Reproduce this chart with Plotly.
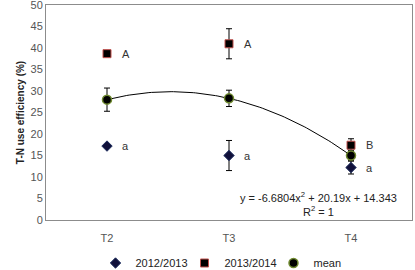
import numpy as np
import plotly.graph_objects as go

categories = ["T2", "T3", "T4"]
xpos = [1, 2, 3]
s1_name = "2012/2013"
s1_vals = [17.2, 15.0, 12.2]
s1_err = [0.0, 3.5, 1.5]
s1_letters = ["a", "a", "a"]
s2_name = "2013/2014"
s2_vals = [38.7, 41.0, 17.4]
s2_err = [0.0, 3.5, 1.5]
s2_letters = ["A", "A", "B"]
mean_name = "mean"
mean_vals = [28.0, 28.3, 15.0]
mean_err = [2.7, 1.9, 1.2]
eq_text = "y = -6.6804x<sup>2</sup> + 20.19x + 14.343"
r2_text = "R<sup>2</sup> = 1"
y_ticks = [0, 5, 10, 15, 20, 25, 30, 35, 40, 45, 50]

font_family = "Liberation Sans, Arial, sans-serif"

coef = np.polyfit(xpos, mean_vals, 2)
xs = np.linspace(1, 3, 100)
ys = np.polyval(coef, xs)

fig = go.Figure()

fig.add_trace(go.Scatter(x=xs, y=ys, mode="lines", line=dict(color="black", width=1),
                         showlegend=False, hoverinfo="skip"))

err_style = dict(type="data", thickness=1, width=3, color="black")

fig.add_trace(go.Scatter(
    x=xpos, y=s1_vals, mode="markers", name=s1_name,
    marker=dict(symbol="diamond", size=8, color="#10103a", line=dict(color="#1f2f5f", width=1)),
    error_y=dict(array=s1_err, **err_style)))
fig.add_trace(go.Scatter(
    x=xpos, y=s2_vals, mode="markers", name=s2_name,
    marker=dict(symbol="square", size=8, color="#000000", line=dict(color="#c0504d", width=1)),
    error_y=dict(array=s2_err, **err_style)))
fig.add_trace(go.Scatter(
    x=xpos, y=mean_vals, mode="markers", name=mean_name,
    marker=dict(symbol="circle", size=9, color="#000000", line=dict(color="#6f8a30", width=1.5)),
    error_y=dict(array=mean_err, **err_style)))

for x, y, t in zip(xpos, s1_vals, s1_letters):
    fig.add_annotation(x=x, y=y, text=t, showarrow=False, xshift=13, xanchor="left",
                       font=dict(size=11, color="#333333", family=font_family))
for x, y, t in zip(xpos, s2_vals, s2_letters):
    fig.add_annotation(x=x, y=y, text=t, showarrow=False, xshift=13, xanchor="left",
                       font=dict(size=11, color="#333333", family=font_family))

fig.add_annotation(x=0.745, y=0.108, xref="paper", yref="paper", text=eq_text, showarrow=False,
                   xanchor="center", yanchor="middle",
                   font=dict(size=11, color="#222222", family=font_family))
fig.add_annotation(x=0.745, y=0.04, xref="paper", yref="paper", text=r2_text, showarrow=False,
                   xanchor="center", yanchor="middle",
                   font=dict(size=11, color="#222222", family=font_family))

fig.update_layout(
    width=415, height=270,
    margin=dict(l=46, r=3, t=5, b=50, autoexpand=False),
    paper_bgcolor="white", plot_bgcolor="white",
    font=dict(family=font_family, size=11, color="#555555"),
    legend=dict(orientation="h", x=0.5, xanchor="center", y=-0.2, yanchor="middle",
                font=dict(size=11, color="#222222"), itemwidth=30, entrywidth=44,
                tracegroupgap=0, borderwidth=0, bgcolor="rgba(0,0,0,0)"),
    xaxis=dict(range=[0.5, 3.5], tickvals=xpos, ticktext=categories, showgrid=False,
               zeroline=False, showline=True, linecolor="#8c8c8c", mirror=True, ticks="",
               ticklabelstandoff=8),
    yaxis=dict(range=[0, 50.02], tickvals=y_ticks, showgrid=False, zeroline=False,
               showline=True, linecolor="#8c8c8c", mirror=True, ticks="",
               ticklabeloverflow="allow",
               title=dict(text="<b>T-N use efficiency (%)</b>", font=dict(size=10, color="#222222"),
                          standoff=4)),
)

fig.write_html("out.html")
